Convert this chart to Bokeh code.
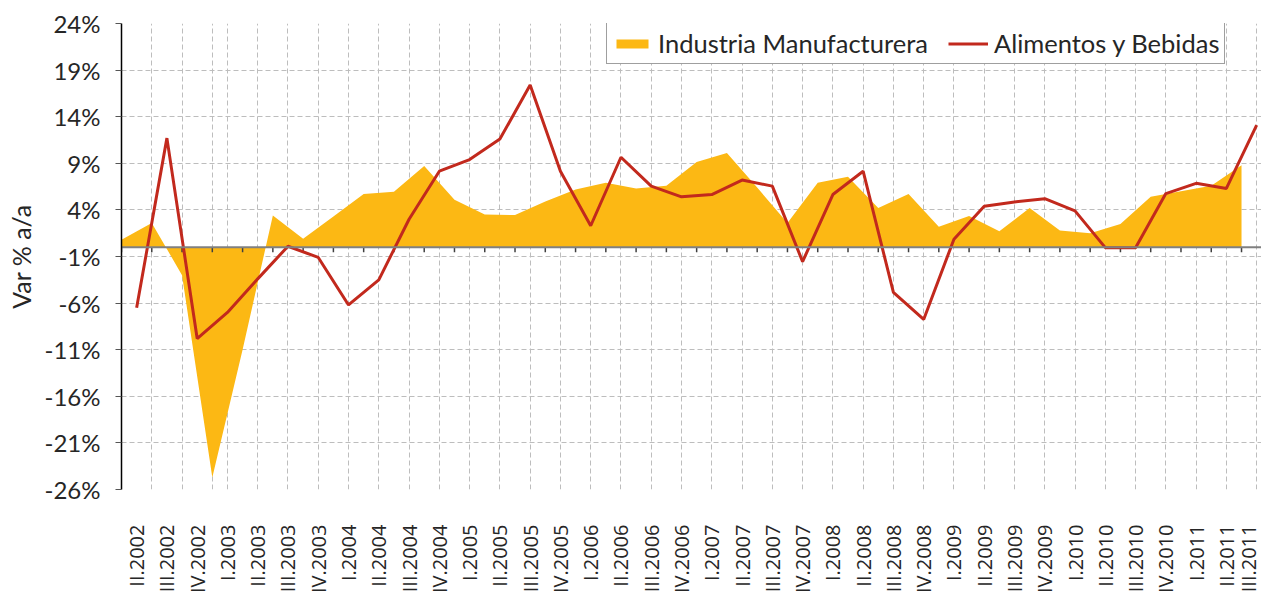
import numpy as np
from bokeh.plotting import figure
from bokeh.models import (Range1d, FixedTicker, PrintfTickFormatter, Legend,
                          LegendItem, Span)
from bokeh.embed import file_html
from bokeh.resources import INLINE

# ---------------- data ----------------
quarters = [
    "II.2002", "III.2002", "IV.2002",
    "I.2003", "II.2003", "III.2003", "IV.2003",
    "I.2004", "II.2004", "III.2004", "IV.2004",
    "I.2005", "II.2005", "III.2005", "IV.2005",
    "I.2006", "II.2006", "III.2006", "IV.2006",
    "I.2007", "II.2007", "III.2007", "IV.2007",
    "I.2008", "II.2008", "III.2008", "IV.2008",
    "I.2009", "II.2009", "III.2009", "IV.2009",
    "I.2010", "II.2010", "III.2010", "IV.2010",
    "I.2011", "II.2011", "III.2011",
]
industria = [0.8, 2.6, -3.0, -24.7, -11.0, 3.4, 0.9, 3.3, 5.7, 5.95,
             8.7, 5.1, 3.5, 3.45, 4.9, 6.2, 6.9, 6.3, 6.6, 9.15,
             10.1, 6.4, 2.6, 6.9, 7.55, 4.2, 5.7, 2.2, 3.35, 1.7,
             4.2, 1.8, 1.5, 2.5, 5.4, 6.0, 6.6, 8.8]
alimentos = [-6.5, 11.7, -9.8, -7.0, -3.4, 0.1, -1.1, -6.2, -3.5, 3.0,
             8.15, 9.4, 11.6, 17.4, 8.15, 2.3, 9.65, 6.55, 5.4, 5.65,
             7.2, 6.55, -1.55, 5.65, 8.15, -4.85, -7.75, 0.85, 4.4, 4.85,
             5.2, 3.9, -0.05, -0.05, 5.75, 6.85, 6.3, 13.1]
y_ticks = [-26, -21, -16, -11, -6, -1, 4, 9, 14, 19, 24]

ORANGE = "#FCB814"
RED = "#C2291D"
TXT = "#262626"
GRID = "#BDBDBD"

n = len(quarters)
xc = np.arange(n)            # line points (category centres)
xb = xc - 0.5                # area points (category boundaries)

p = figure(width=1261, height=596,
           x_range=Range1d(-0.5, 37.16), y_range=Range1d(-26, 24),
           output_backend="svg", toolbar_location=None,
           min_border_left=121, min_border_right=0,
           min_border_top=23, min_border_bottom=105)
p.outline_line_color = None
p.background_fill_color = "white"

# grids
p.ygrid.ticker = FixedTicker(ticks=y_ticks)
p.xgrid.ticker = FixedTicker(ticks=list(xb[1:4]) + list(xc[3:]))
for g in (p.xgrid, p.ygrid):
    g.grid_line_color = GRID
    g.grid_line_dash = "5 3"
    g.grid_line_width = 1

# y axis
p.yaxis.ticker = FixedTicker(ticks=y_ticks)
p.yaxis.formatter = PrintfTickFormatter(format="%d%%")
p.yaxis.axis_line_color = "black"
p.yaxis.axis_line_width = 1.5
p.yaxis.major_tick_out = 6
p.yaxis.major_tick_in = 0
p.yaxis.major_tick_line_color = "#555555"
p.yaxis.minor_tick_line_color = None
p.yaxis.major_label_standoff = 15
p.yaxis.major_label_text_font = "Lato"
p.yaxis.major_label_text_font_size = "24px"
p.yaxis.major_label_text_color = TXT
p.yaxis.axis_label = "Var % a/a"
p.yaxis.axis_label_text_font = "Lato"
p.yaxis.axis_label_text_font_size = "25px"
p.yaxis.axis_label_text_font_style = "normal"
p.yaxis.axis_label_text_color = TXT
p.yaxis.axis_label_standoff = 6

# x axis (labels only)
p.xaxis.ticker = FixedTicker(ticks=list(xc))
p.xaxis.major_label_overrides = {int(i): q for i, q in zip(xc, quarters)}
p.xaxis.major_label_orientation = np.pi / 2
p.xaxis.axis_line_color = None
p.xaxis.major_tick_line_color = None
p.xaxis.minor_tick_line_color = None
p.xaxis.major_label_standoff = 29
p.xaxis.major_label_text_font = "Open Sans"
p.xaxis.major_label_text_font_size = "20px"
p.xaxis.major_label_text_color = TXT

# area series
area = p.varea(x=xb, y1=0, y2=industria, fill_color=ORANGE)

# zero axis line with tick marks at category boundaries
zero = Span(location=0, dimension="width", line_color="#808080",
            line_width=2, level="glyph")
p.add_layout(zero)
bounds = np.arange(n + 1) - 0.5
p.segment(x0=bounds, y0=0, x1=bounds, y1=-0.55,
          line_color="#404040", line_width=1.5)

# line series
line = p.line(xc, alimentos, line_color=RED, line_width=3)

legend = Legend(items=[LegendItem(label="Industria Manufacturera", renderers=[area]),
                       LegendItem(label="Alimentos y Bebidas", renderers=[line])],
                orientation="horizontal", location=(485, 425))
legend.border_line_color = "#404040"
legend.border_line_width = 1.5
legend.background_fill_alpha = 1
legend.padding = 5
legend.spacing = 20
legend.label_standoff = 6
legend.glyph_width = 40
legend.glyph_height = 11
legend.label_text_font = "Lato"
legend.label_text_font_size = "25.5px"
legend.label_text_color = TXT
legend.margin = 0
p.add_layout(legend)

open("out.html", "w").write(file_html(p, INLINE))
